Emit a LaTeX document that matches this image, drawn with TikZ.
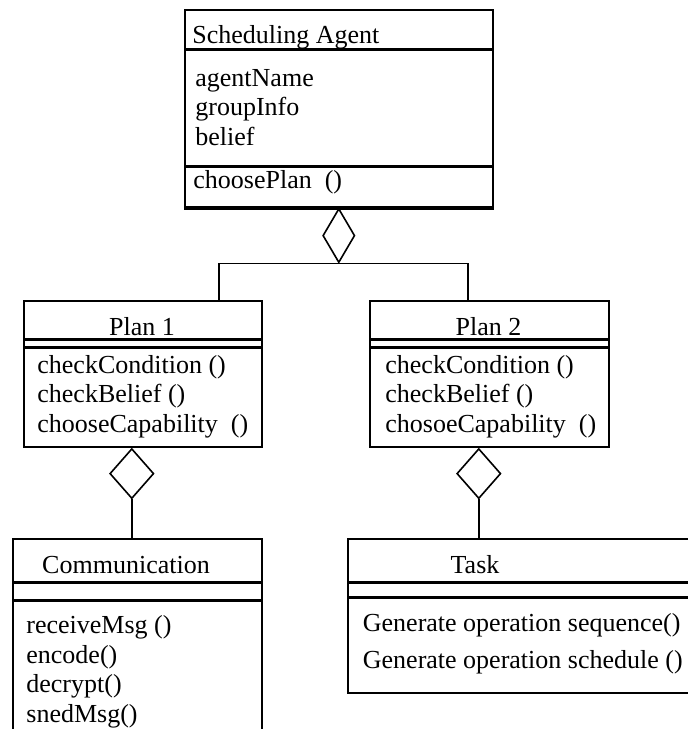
\documentclass[tikz,border=0pt]{standalone}
\usepackage{fontspec}
\setmainfont{Liberation Serif}
\usetikzlibrary{positioning,shapes.geometric}
\tikzset{
    %Define style for class compartments
    fach/.style={
           rectangle,
           draw=black, line width=0.8pt,
           inner sep=0pt,
           minimum width=#1},
    % Define style for the texts (base = last line)
    eintrag/.style={
           anchor=base west,
           align=left,
           inner sep=0pt,
           font=\fontsize{13}{14.75}\selectfont},
    titel/.style={
           anchor=base,
           inner sep=0pt,
           font=\fontsize{13}{14.75}\selectfont},
    % Define aggregation diamond
    raute/.style={
           diamond,
           draw=black, line width=0.8pt,
           inner sep=0pt},
    % Define link style
    lnk/.style={
           line width=0.8pt}
}
\begin{document}
\begin{tikzpicture}[x=0.5pt,y=-0.5pt]
\useasboundingbox (0,0) rectangle (688,729);
\clip (0,0) rectangle (688,729);
% scheduling agent
 \node[fach=154pt,minimum height=19.5pt,anchor=north west](satitle) at (184,9){};
 \node[fach=154pt,minimum height=57.5pt,below=0pt of satitle](saattr){};
 \node[fach=154pt,minimum height=20pt,below=0pt of saattr](sameth){};
 \draw[line width=1.2pt] ([yshift=-0.6pt]sameth.south west) -- ([yshift=-0.6pt]sameth.south east);
 \node[eintrag](saname) at (192,43){Scheduling Agent};
 \node[eintrag](saattrtext) at (195,145){agentName\\groupInfo\\belief};
 \node[eintrag](samethtext) at (193,188){choosePlan\ \ ()};
% plans
 \node[fach=119pt,minimum height=19pt,anchor=north west](p1title) at (23,300){};
 \node[fach=119pt,minimum height=3pt,below=0pt of p1title](p1attr){};
 \node[fach=119pt,minimum height=49.5pt,below=0pt of p1attr](p1meth){};
 \node[titel](p1name) at (142,335){Plan 1};
 \node[eintrag](p1methtext) at (37,432){checkCondition ()\\checkBelief ()\\chooseCapability\ \ ()};
 \node[fach=119.5pt,minimum height=19pt,anchor=north west](p2title) at (369,300){};
 \node[fach=119.5pt,minimum height=3pt,below=0pt of p2title](p2attr){};
 \node[fach=119.5pt,minimum height=49.5pt,below=0pt of p2attr](p2meth){};
 \node[titel](p2name) at (488.5,335){Plan 2};
 \node[eintrag](p2methtext) at (385,432){checkCondition ()\\checkBelief ()\\chosoeCapability\ \ ()};
% communication and task
 \node[fach=124.5pt,minimum height=21.5pt,anchor=north west](comtitle) at (12,538){};
 \node[fach=124.5pt,minimum height=8pt,below=0pt of comtitle](comattr){};
 \node[fach=124.5pt,minimum height=75pt,below=0pt of comattr](commeth){};
 \node[titel](comname) at (126,573){Communication};
 \node[eintrag](commethtext) at (26,722){receiveMsg ()\\encode()\\decrypt()\\snedMsg()};
 \node[fach=200pt,minimum height=21.5pt,anchor=north west](tasktitle) at (347,538){};
 \node[fach=200pt,minimum height=6.5pt,below=0pt of tasktitle](taskattr){};
 \node[fach=200pt,minimum height=47.5pt,below=0pt of taskattr](taskmeth){};
 \node[titel](taskname) at (475,573){Task};
 \node[eintrag,font=\fontsize{13}{18.5}\selectfont](taskmethtext) at (362.5,668){Generate operation sequence()\\Generate operation schedule ()};
% aggregations
 \node[raute,minimum width=16pt,minimum height=27pt,below=0pt of sameth](agg){};
 \node[raute,minimum width=22pt,minimum height=25pt,below=0pt of p1meth,xshift=-5.5pt](agg1){};
 \node[raute,minimum width=22pt,minimum height=25pt,below=0pt of p2meth,xshift=-5.25pt](agg2){};
 \draw[lnk] (agg.south) -| ([xshift=38pt]p1title.north);
 \draw[lnk] (agg.south) -| ([xshift=-10.75pt]p2title.north);
 \draw[lnk] (agg1.south) -- (agg1.south |- comtitle.north);
 \draw[lnk] (agg2.south) -- (agg2.south |- tasktitle.north);
\end{tikzpicture}
\end{document}
